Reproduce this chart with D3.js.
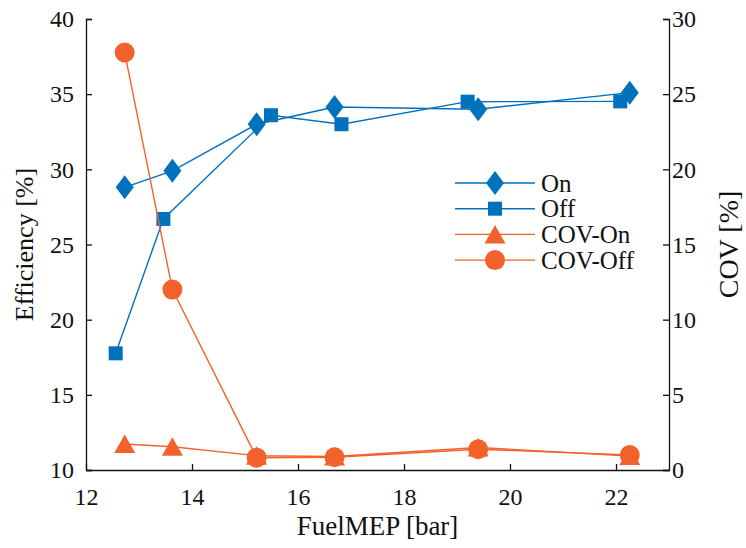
<!DOCTYPE html>
<html>
<head>
<meta charset="utf-8">
<script src="https://cdn.jsdelivr.net/npm/d3@7"></script>
<style>
  body { margin: 0; background: #fff; }
  svg text { font-family: 'Liberation Serif', 'Times New Roman', serif; fill: #111; }
</style>
</head>
<body>
<div id="chart"></div>
<script>
// data
var onX = [12.73, 13.63, 15.22, 16.69, 19.40, 22.26];
var onEff = [28.8, 29.9, 33.0, 34.15, 34.0, 35.1];
var offX = [12.56, 13.46, 15.49, 16.82, 19.20, 22.08];
var offEff = [17.76, 26.7, 33.6, 33.0, 34.5, 34.52];
var covOn = [1.73, 1.55, 0.95, 0.9, 1.5, 0.93];
var covOff = [27.77, 12.0, 0.82, 0.85, 1.38, 1.0];
var effTicks = [10, 15, 20, 25, 30, 35, 40];
var covTicks = [0, 5, 10, 15, 20, 25, 30];
var xTicks = [12, 14, 16, 18, 20, 22];
var legendLabels = ["On", "Off", "COV-On", "COV-Off"];

var blue = "#0072bd", orange = "#f3622d";
var serif = "'Liberation Serif', 'Times New Roman', serif";

var width = 746, height = 548;
var mLeft = 86, mRight = 669, mTop = 19, mBottom = 470;

var svg = d3.select("#chart").append("svg")
  .attr("width", width)
  .attr("height", height);

var x = d3.scaleLinear().domain([12, 23]).range([mLeft, mRight]);
var yL = d3.scaleLinear().domain([10, 40]).range([mBottom, mTop]);
var yR = d3.scaleLinear().domain([0, 30]).range([mBottom, mTop]);

// axes, ticks inward
var xAxis = svg.append("g")
  .attr("transform", "translate(0," + mBottom + ")")
  .call(d3.axisBottom(x).tickValues(xTicks).tickSizeInner(-6).tickSizeOuter(0).tickPadding(12));
var lAxis = svg.append("g")
  .attr("transform", "translate(" + mLeft + ",0)")
  .call(d3.axisLeft(yL).tickValues(effTicks).tickSizeInner(-6).tickSizeOuter(-6).tickPadding(12));
var rAxis = svg.append("g")
  .attr("transform", "translate(" + mRight + ",0)")
  .call(d3.axisRight(yR).tickValues(covTicks).tickSizeInner(-6).tickSizeOuter(-6).tickPadding(3));

[xAxis, lAxis, rAxis].forEach(function(a) {
  a.attr("font-family", serif).attr("font-size", 24);
  a.selectAll("path, line").attr("stroke", "#111").attr("stroke-width", 1.3);
  a.selectAll("text")
    .style("font-family", serif)
    .style("font-size", "24px")
    .attr("fill", "#111");
});
xAxis.selectAll("text").attr("dy", "0.95em");

// axis titles
svg.append("text")
  .attr("x", (mLeft + mRight) / 2).attr("y", 535)
  .attr("text-anchor", "middle")
  .style("font-family", serif)
  .style("font-size", "27px")
  .text("FuelMEP [bar]");
svg.append("text")
  .attr("transform", "translate(33," + ((mTop + mBottom) / 2) + ") rotate(-90)")
  .attr("text-anchor", "middle")
  .style("font-family", serif)
  .style("font-size", "26px")
  .text("Efficiency [%]");
svg.append("text")
  .attr("transform", "translate(738," + ((mTop + mBottom) / 2) + ") rotate(-90)")
  .attr("text-anchor", "middle")
  .style("font-family", serif)
  .style("font-size", "28px")
  .text("COV [%]");

// marker shapes
function marker(g, kind, color) {
  if (kind == "diamond") {
    g.append("path").attr("d", "M0,-12L9,0L0,12L-9,0Z").attr("fill", color);
  } else if (kind == "square") {
    g.append("rect").attr("x", -7).attr("y", -7).attr("width", 14).attr("height", 14).attr("fill", color);
  } else if (kind == "triangle") {
    g.append("path").attr("d", "M0,-9.5L10.5,9L-10.5,9Z").attr("fill", color);
  } else {
    g.append("circle").attr("r", 10).attr("fill", color);
  }
}

var series = [
  { xs: onX, ys: onEff, scale: yL, color: blue, kind: "diamond" },
  { xs: offX, ys: offEff, scale: yL, color: blue, kind: "square" },
  { xs: onX, ys: covOn, scale: yR, color: orange, kind: "triangle" },
  { xs: onX, ys: covOff, scale: yR, color: orange, kind: "circle" }
];

series.forEach(function(s) {
  var pts = s.xs.map(function(v, i) { return [v, s.ys[i]]; });
  var line = d3.line()
    .x(function(d) { return x(d[0]); })
    .y(function(d) { return s.scale(d[1]); });
  svg.append("path")
    .datum(pts)
    .attr("d", line)
    .attr("fill", "none")
    .attr("stroke", s.color)
    .attr("stroke-width", 1.4);
  pts.forEach(function(d) {
    var g = svg.append("g")
      .attr("transform", "translate(" + x(d[0]) + "," + s.scale(d[1]) + ")");
    marker(g, s.kind, s.color);
  });
});

// legend
var leg = svg.append("g").attr("transform", "translate(455,183)");
legendLabels.forEach(function(lab, i) {
  var row = leg.append("g").attr("transform", "translate(0," + (i * 25.7) + ")");
  row.append("line")
    .attr("x1", 0).attr("x2", 80)
    .attr("stroke", series[i].color).attr("stroke-width", 1.4);
  var m = row.append("g").attr("transform", "translate(40,0)");
  marker(m, series[i].kind, series[i].color);
  row.append("text")
    .attr("x", 86).attr("dy", "0.35em")
    .style("font-family", serif)
    .style("font-size", "25px")
    .text(lab);
});
</script>
</body>
</html>
